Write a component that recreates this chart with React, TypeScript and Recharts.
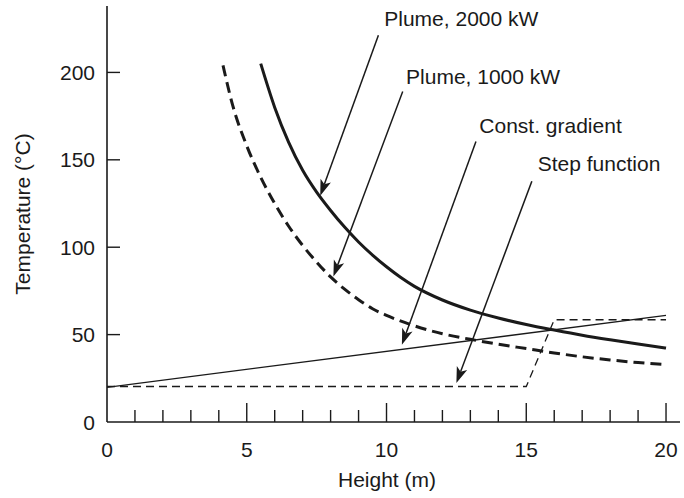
import React from "react";
import { LineChart, Line, XAxis, YAxis, ReferenceLine, ReferenceDot } from "recharts";

// plume curves (height m -> temperature °C)
const plume2000X = [5.5, 6, 6.5, 7, 7.5, 8, 8.5, 9, 9.5, 10, 10.5, 11, 12, 13, 14, 15, 16, 17, 18, 19, 20];
const plume2000Y = [205, 180, 160, 144, 131.5, 121, 111.5, 103, 95.5, 88.8, 82.8, 77.6, 69.8, 64, 59.5, 55.8, 52.6, 49.6, 47, 44.6, 42.3];

const plume1000X = [4.15, 4.5, 5, 5.5, 6, 6.5, 7, 7.5, 8, 8.5, 9, 9.5, 10, 11, 12, 13, 14, 15, 16, 17, 18, 19, 20];
const plume1000Y = [204, 181, 158, 140, 125, 112, 101, 91.5, 83, 76, 70, 64.8, 61, 55, 50.5, 47.3, 44.5, 42, 39.5, 37.3, 35.5, 34, 32.8];

const gradientX = [0, 20];
const gradientY = [19.8, 61];

const stepX = [0, 15, 16, 20];
const stepY = [20.3, 20.3, 58.5, 58.5];

const xTicks = [0, 1, 2, 3, 4, 5, 6, 7, 8, 9, 10, 11, 12, 13, 14, 15, 16, 17, 18, 19, 20];
const yTicks = [0, 50, 100, 150, 200];

// annotation text and arrows, in data units
const labels = ["Plume, 2000 kW", "Plume, 1000 kW", "Const. gradient", "Step function"];
const labelX = [9.92, 10.7, 13.32, 15.41];
const labelY = [226.7, 193.5, 165.3, 143.4];
const arrowFrom = [[9.71, 221.2], [10.58, 189.1], [13.2, 160.5], [15.2, 137.8]];
const arrowTo = [[7.63, 129.5], [8.1, 83.3], [10.55, 44.2], [12.5, 22.3]];

const zip = (xs: number[], ys: number[]) => xs.map((x, i) => ({ x, y: ys[i] }));

const INK = "#1a1a1a";
const FONT = "'Liberation Sans', Arial, Helvetica, sans-serif";
const FS = 21;

const XTick = (props: any) => {
  const { x, y, payload } = props;
  const v = payload.value;
  const major = v % 5 === 0;
  const axisY = y - 20;
  return (
    <g>
      {v !== 0 && (
        <line x1={x} x2={x} y1={axisY} y2={axisY - (major ? 19 : 12)} stroke={INK} strokeWidth={1.4} />
      )}
      {major && (
        <text x={x} y={y} dy="0.71em" textAnchor="middle" fontSize={FS} fontFamily={FONT} fill={INK}>
          {v}
        </text>
      )}
    </g>
  );
};

const YTick = (props: any) => {
  const { x, y, payload } = props;
  const axisX = x + 12;
  return (
    <g>
      {payload.value !== 0 && (
        <line x1={axisX} x2={axisX + 13} y1={y} y2={y} stroke={INK} strokeWidth={1.4} />
      )}
      <text x={x} y={y} dy="0.36em" textAnchor="end" fontSize={FS} fontFamily={FONT} fill={INK}>
        {payload.value}
      </text>
    </g>
  );
};

const Arrow = (props: any) => {
  const { x1, y1, x2, y2 } = props;
  if ([x1, y1, x2, y2].some((v) => v == null || isNaN(v))) return null;
  const a = Math.atan2(y2 - y1, x2 - x1);
  const len = 16;
  const half = 5.5;
  const bx = x2 - len * Math.cos(a);
  const by = y2 - len * Math.sin(a);
  const nx = -Math.sin(a);
  const ny = Math.cos(a);
  const notchX = x2 - len * 0.75 * Math.cos(a);
  const notchY = y2 - len * 0.75 * Math.sin(a);
  const pts = [
    [x2, y2],
    [bx + nx * half, by + ny * half],
    [notchX, notchY],
    [bx - nx * half, by - ny * half],
  ]
    .map((p) => p.join(","))
    .join(" ");
  return (
    <g>
      <line x1={x1} y1={y1} x2={notchX} y2={notchY} stroke={INK} strokeWidth={1.5} />
      <polygon points={pts} fill={INK} />
    </g>
  );
};

const TextMark = (text: string) => (props: any) => {
  const { cx, cy } = props;
  return (
    <text x={cx} y={cy} fontSize={FS} fontFamily={FONT} fill={INK}>
      {text}
    </text>
  );
};

export default function App() {
  return (
    <div style={{ position: "absolute", left: 0, top: 0, background: "#fff" }}>
      <LineChart width={684} height={498} margin={{ top: 6, right: 4, left: 0, bottom: 0 }}>
        <XAxis
          type="number"
          dataKey="x"
          domain={[0, 20.5]}
          ticks={xTicks}
          interval={0}
          allowDataOverflow
          height={76}
          tickSize={0}
          tickMargin={20}
          tick={<XTick />}
          axisLine={{ stroke: INK, strokeWidth: 1.6 }}
          label={{
            content: (p: any) => (
              <text
                x={p.viewBox.x + 280}
                y={p.viewBox.y + 65}
                textAnchor="middle"
                fontSize={FS}
                fontFamily={FONT}
                fill={INK}
              >
                Height (m)
              </text>
            ),
          }}
        />
        <YAxis
          type="number"
          domain={[0, 238]}
          ticks={yTicks}
          interval={0}
          allowDataOverflow
          width={107}
          tickSize={0}
          tickMargin={12}
          tick={<YTick />}
          axisLine={{ stroke: INK, strokeWidth: 1.6 }}
          label={{
            content: (p: any) => {
              const cx = p.viewBox.x + 22;
              const cy = p.viewBox.y + p.viewBox.height / 2;
              return (
                <text
                  x={cx}
                  y={cy}
                  transform={`rotate(-90 ${cx} ${cy})`}
                  textAnchor="middle"
                  dominantBaseline="central"
                  fontSize={FS}
                  fontFamily={FONT}
                  fill={INK}
                >
                  Temperature (°C)
                </text>
              );
            },
          }}
        />

        <Line
          data={zip(stepX, stepY)}
          dataKey="y"
          type="linear"
          stroke={INK}
          strokeWidth={1.3}
          strokeDasharray="8 5"
          dot={false}
          isAnimationActive={false}
        />
        <Line
          data={zip(gradientX, gradientY)}
          dataKey="y"
          type="linear"
          stroke={INK}
          strokeWidth={1.3}
          dot={false}
          isAnimationActive={false}
        />
        <Line
          data={zip(plume1000X, plume1000Y)}
          dataKey="y"
          type="monotone"
          stroke={INK}
          strokeWidth={3}
          strokeDasharray="11 6"
          dot={false}
          isAnimationActive={false}
        />
        <Line
          data={zip(plume2000X, plume2000Y)}
          dataKey="y"
          type="monotone"
          stroke={INK}
          strokeWidth={3}
          dot={false}
          isAnimationActive={false}
        />

        {arrowFrom.map((f, i) => (
          <ReferenceLine
            key={"a" + i}
            segment={[
              { x: f[0], y: f[1] },
              { x: arrowTo[i][0], y: arrowTo[i][1] },
            ]}
            ifOverflow="visible"
            shape={<Arrow />}
          />
        ))}
        {labels.map((t, i) => (
          <ReferenceDot
            key={"l" + i}
            x={labelX[i]}
            y={labelY[i]}
            r={0}
            ifOverflow="visible"
            shape={TextMark(t)}
          />
        ))}
      </LineChart>
    </div>
  );
}
